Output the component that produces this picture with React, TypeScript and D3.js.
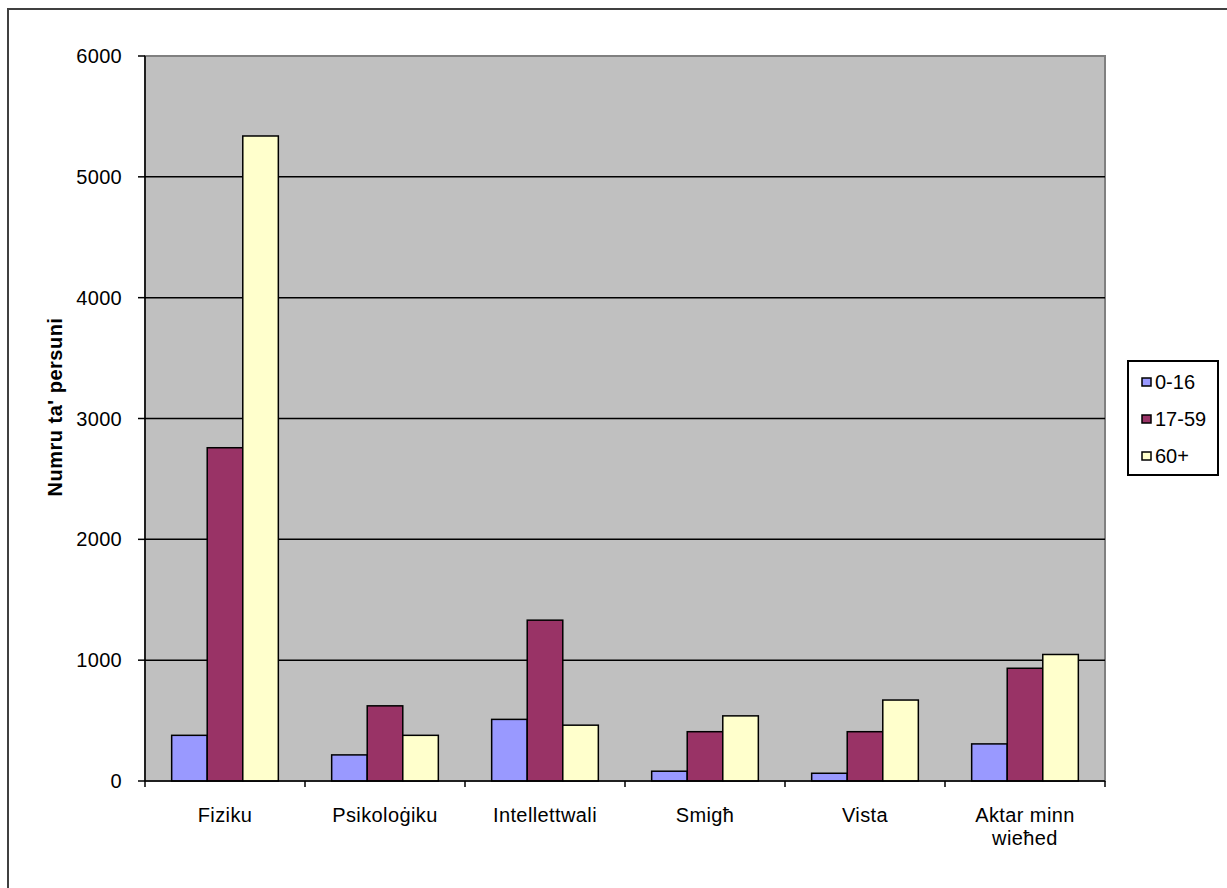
import React from "react";
import { scaleBand, scaleLinear } from "d3";

const categories = ["Fiziku", "Psikoloġiku", "Intellettwali", "Smigħ", "Vista", "Aktar minn wieħed"];
const seriesNames = ["0-16", "17-59", "60+"];
const seriesColors = ["#9999FF", "#993366", "#FFFFCC"];
const age0to16 = [378, 216, 510, 81, 64, 307];
const age17to59 = [2758, 622, 1331, 408, 408, 933];
const age60plus = [5338, 378, 462, 539, 670, 1047];
const yTicks = [0, 1000, 2000, 3000, 4000, 5000, 6000];
const yTitle = "Numru ta' persuni";

const W = 1227;
const H = 888;
const plot = { left: 145, right: 1105, top: 56, bottom: 781 };
const font = "'Liberation Sans', Arial, sans-serif";

const x0 = scaleBand<string>().domain(categories).range([plot.left, plot.right]);
const x1 = scaleBand<string>().domain(seriesNames).range([0, x0.bandwidth()]).paddingOuter(0.75);
const y = scaleLinear().domain([0, 6000]).range([plot.bottom, plot.top]);

const series = [age0to16, age17to59, age60plus];

// crude wrap, excel breaks "Aktar minn wieħed" in two
function wrap(label: string, maxChars = 12) {
  const lines: string[] = [];
  let cur = "";
  label.split(" ").forEach(w => {
    const next = cur ? cur + " " + w : w;
    if (next.length > maxChars && cur) {
      lines.push(cur);
      cur = w;
    } else cur = next;
  });
  lines.push(cur);
  return lines;
}

export default function App() {
  const legendTop = 361;
  return (
    <>
      <style>{`body { margin: 0; }`}</style>
      <svg width={W} height={H} style={{ display: "block", background: "#fff" }} fontFamily={font}>
        {/* outer chart frame, clipped at right/bottom like the original */}
        <rect x={8} y={9} width={W + 10} height={H + 10} fill="#fff" stroke="#404040" strokeWidth={2} />

        <rect x={plot.left} y={plot.top} width={plot.right - plot.left} height={plot.bottom - plot.top}
          fill="#C0C0C0" stroke="#808080" strokeWidth={2} />

        {yTicks.filter(t => t > 0 && t < 6000).map(t => (
          <line key={t} x1={plot.left} x2={plot.right} y1={y(t)} y2={y(t)} stroke="#000" strokeWidth={1.5} />
        ))}

        {categories.map((c, ci) =>
          series.map((vals, si) => (
            <rect key={c + si}
              x={x0(c)! + x1(seriesNames[si])!}
              y={y(vals[ci])}
              width={x1.bandwidth()}
              height={y(0) - y(vals[ci])}
              fill={seriesColors[si]} stroke="#000" strokeWidth={1.5} />
          ))
        )}

        {/* axes */}
        <line x1={plot.left} x2={plot.left} y1={plot.top} y2={plot.bottom} stroke="#000" strokeWidth={1.5} />
        <line x1={plot.left} x2={plot.right} y1={plot.bottom} y2={plot.bottom} stroke="#000" strokeWidth={1.5} />
        {yTicks.map(t => (
          <g key={t}>
            <line x1={plot.left - 7} x2={plot.left} y1={y(t)} y2={y(t)} stroke="#000" strokeWidth={1.5} />
            <text x={122} y={y(t)} dy="0.35em" textAnchor="end" fontSize={20} letterSpacing={0.3}>{t}</text>
          </g>
        ))}
        {[...categories.map(c => x0(c)!), plot.right].map((xv, i) => (
          <line key={i} x1={xv} x2={xv} y1={plot.bottom} y2={plot.bottom + 6} stroke="#000" strokeWidth={1.5} />
        ))}
        {categories.map(c => (
          <text key={c} x={x0(c)! + x0.bandwidth() / 2} y={815} textAnchor="middle" fontSize={20} letterSpacing={0.4}>
            {wrap(c).map((ln, i) => (
              <tspan key={i} x={x0(c)! + x0.bandwidth() / 2} y={815 + i * 23} dy="0.35em">{ln}</tspan>
            ))}
          </text>
        ))}

        <text transform={`translate(55,407) rotate(-90)`} textAnchor="middle" dy="0.35em"
          fontSize={20} fontWeight="bold" letterSpacing={0.5}>{yTitle}</text>

        {/* legend */}
        <rect x={1128} y={legendTop} width={90} height={114} fill="#fff" stroke="#000" strokeWidth={2} />
        {seriesNames.map((s, i) => {
          const cy = 382 + i * 37;
          return (
            <g key={s}>
              <rect x={1142} y={cy - 4} width={9} height={8} fill={seriesColors[i]} stroke="#000" strokeWidth={1.5} />
              <text x={1155} y={cy} dy="0.35em" fontSize={20}>{s}</text>
            </g>
          );
        })}
      </svg>
    </>
  );
}
